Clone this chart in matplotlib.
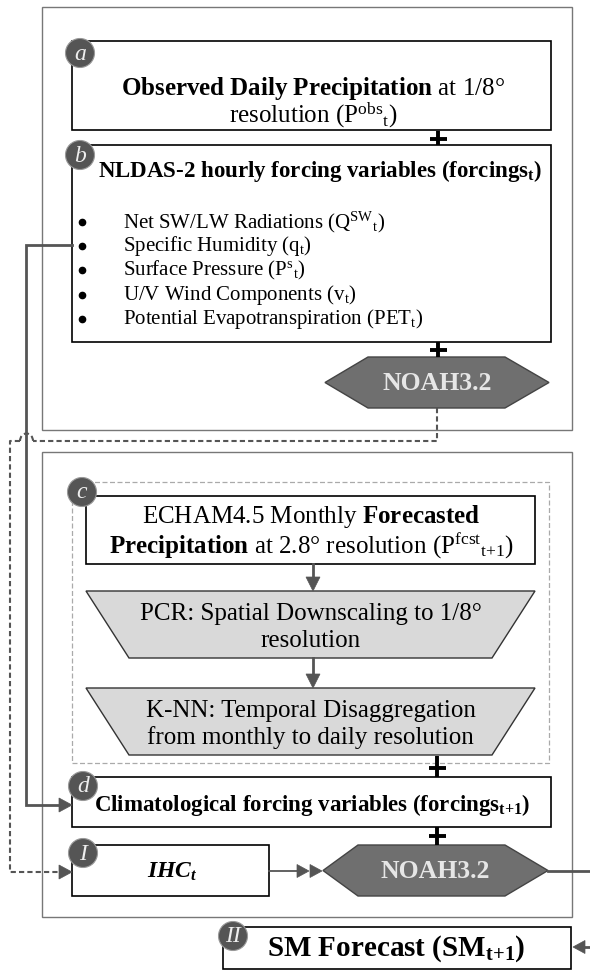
import matplotlib.pyplot as plt
from matplotlib.patches import Rectangle, Polygon, Circle, Arc

plt.rcParams['font.family'] = ['Liberation Serif', 'DejaVu Serif']
plt.rcParams['mathtext.fontset'] = 'custom'
plt.rcParams['mathtext.rm'] = 'Liberation Serif'
plt.rcParams['mathtext.it'] = 'Liberation Serif:italic'
plt.rcParams['mathtext.bf'] = 'Liberation Serif:bold'
plt.rcParams['mathtext.bfit'] = 'Liberation Serif:italic:bold'

# text content
box_a_lines = [r'$\mathbf{Observed\ Daily\ Precipitation}$ at 1/8°',
               r'resolution (P$^{\mathrm{obs}}{}_{\mathrm{t}}$)']
box_b_title = r'NLDAS-2 hourly forcing variables (forcings$_{\mathbf{t}}$)'
box_b_items = [r'Net SW/LW Radiations (Q$^{\mathrm{SW}}{}_{\mathrm{t}}$)',
               r'Specific Humidity (q$_{\mathrm{t}}$)',
               r'Surface Pressure (P$^{\mathrm{s}}{}_{\mathrm{t}}$)',
               r'U/V Wind Components (v$_{\mathrm{t}}$)',
               r'Potential Evapotranspiration (PET$_{\mathrm{t}}$)']
echam_lines = [r'ECHAM4.5 Monthly $\mathbf{Forecasted}$',
               r'$\mathbf{Precipitation}$ at 2.8° resolution (P$^{\mathrm{fcst}}{}_{\mathrm{t{+}1}}$)']
pcr_lines = ['PCR: Spatial Downscaling to 1/8°', 'resolution']
knn_lines = ['K-NN: Temporal Disaggregation', 'from monthly to daily resolution']
box_d_title = r'Climatological forcing variables (forcings$_{\mathbf{t{+}1}}$)'
ihc_text = r'IHC$_{\mathbfit{t}}$'
model_name = 'NOAH3.2'
sm_text = r'SM Forecast (SM$_{\mathbf{t{+}1}}$)'
tags = ['a', 'b', 'c', 'd', 'I', 'II']

DARK = '#555555'

fig = plt.figure(figsize=(5.9, 9.71), dpi=100)
ax = fig.add_axes([0, 0, 1, 1])
ax.set_xlim(0, 590)
ax.set_ylim(971, 0)
ax.axis('off')


def rect(x0, y0, x1, y1, ec='black', lw=1.2, fc='white', ls='-', z=2):
    ax.add_patch(Rectangle((x0, y0), x1 - x0, y1 - y0, ec=ec, fc=fc, lw=lw, ls=ls, zorder=z))


def tag(x, y, s):
    ax.add_patch(Circle((x, y), 14.5, fc=DARK, ec='#999999', lw=0.8, zorder=5))
    ax.text(x, y + 1, s, color='#eeeeee', fontsize=17, style='italic',
            ha='center', va='center', zorder=6)


def plus(x, y, y0, y1):
    ax.plot([x, x], [y0, y1], color='black', lw=2.8, zorder=4, solid_capstyle='butt')
    ax.plot([x - 8.5, x + 8.5], [y, y], color='black', lw=2.8, zorder=4, solid_capstyle='butt')


def hexagon(xl, xr, xil, xir, yt, yb):
    ym = (yt + yb) / 2
    ax.add_patch(Polygon([(xl, ym), (xil, yt), (xir, yt), (xr, ym), (xir, yb), (xil, yb)],
                         closed=True, fc='#6f6f6f', ec='#444444', lw=1, zorder=3))
    ax.text((xl + xr) / 2, ym + 1, model_name, color='#e6e6e6', fontsize=18.5,
            fontweight='bold', ha='center', va='center', zorder=4)


def trapezoid(xt0, xt1, xb0, xb1, yt, yb, lines):
    ax.add_patch(Polygon([(xt0, yt), (xt1, yt), (xb1, yb), (xb0, yb)], closed=True,
                         fc='#d9d9d9', ec='#333333', lw=1, zorder=3))
    ys = [yt + 23, yt + 50]
    for yy, s in zip(ys, lines):
        ax.text((xt0 + xt1) / 2, yy, s, fontsize=18, ha='center', va='center', zorder=4)


def tri(xtip, y, d, size=12, half=6.5):
    ax.add_patch(Polygon([(xtip, y), (xtip - d * size, y - half), (xtip - d * size, y + half)],
                         closed=True, fc=DARK, ec=DARK, lw=0.5, zorder=6))


def tri_down(x, ytip, size=14, half=7):
    ax.add_patch(Polygon([(x, ytip), (x - half, ytip - size), (x + half, ytip - size)],
                         closed=True, fc=DARK, ec=DARK, lw=0.5, zorder=6))


# outer boxes
rect(42, 7, 572, 430, ec='#777777', lw=1.0, fc='none', z=1)
rect(42, 452, 572, 917, ec='#777777', lw=1.0, fc='none', z=1)

# box a
rect(72, 41, 551, 130)
ax.text(313, 88, box_a_lines[0], fontsize=18, ha='center', va='center', zorder=4)
ax.text(313, 115, box_a_lines[1], fontsize=18, ha='center', va='center', zorder=4)
tag(80, 53, tags[0])
plus(438, 139, 131, 145)

# box b
rect(72, 145, 551, 342)
ax.text(320, 171, box_b_title, fontsize=16.5, fontweight='bold', ha='center', va='center', zorder=4)
for i, s in enumerate(box_b_items):
    yy = 222 + i * 24.2
    ax.plot(82, yy, 'o', ms=4.5, color='black', zorder=4)
    ax.text(123, yy, s, fontsize=15, ha='left', va='center', zorder=4)
tag(80, 155, tags[1])
plus(438, 350, 342, 357)
hexagon(325, 549, 368, 505, 357, 408)

# dashed box c
rect(72, 482, 549, 763, ec='#aaaaaa', lw=0.9, fc='none', ls=(0, (4, 2)), z=1)
rect(86, 496, 535, 564)
ax.text(311, 516, echam_lines[0], fontsize=18, ha='center', va='center', zorder=4)
ax.text(311, 545, echam_lines[1], fontsize=18, ha='center', va='center', zorder=4)
tag(82, 492, tags[2])
ax.plot([313, 313], [564, 578], color=DARK, lw=2, zorder=5)
tri_down(313, 591)
trapezoid(86, 535, 129, 492, 591, 658, pcr_lines)
ax.plot([313, 313], [658, 675], color=DARK, lw=2, zorder=5)
tri_down(313, 688)
trapezoid(86, 535, 129, 492, 688, 755, knn_lines)

# box d
plus(437, 768, 756, 777)
rect(72, 777, 551, 827)
ax.text(312, 805, box_d_title, fontsize=16.5, fontweight='bold', ha='center', va='center', zorder=4)
tag(83, 786, tags[3])
plus(437, 836, 827, 845)

# box I and second model run
rect(72, 845, 269, 896)
ax.text(172, 872, ihc_text, fontsize=17, fontweight='bold', style='italic',
        ha='center', va='center', zorder=4)
tag(83, 853, tags[4])
hexagon(323, 548, 358, 505, 845, 896)
ax.plot([269, 297], [871, 871], color=DARK, lw=1.3, zorder=5)
tri(309, 871, 1, size=12, half=6.5)
tri(322, 871, 1, size=12, half=6.5)
ax.plot([548, 590], [871, 871], color=DARK, lw=2, zorder=5)

# box II
rect(223, 927, 571, 969)
ax.text(396, 949, sm_text, fontsize=21, fontweight='bold', ha='center', va='center', zorder=4)
tag(233, 936, tags[5])
ax.plot([584, 590], [947, 947], color=DARK, lw=2, zorder=5)
tri(573, 947, -1, size=12, half=6.5)

# solid link from NLDAS forcings to climatological forcings
ax.plot([72, 26, 26, 60], [245, 245, 805, 805], color=DARK, lw=2, zorder=5,
        solid_joinstyle='miter')
tri(72, 805, 1, size=13, half=7)

# dashed link from first model run to initial conditions
dash = dict(color=DARK, lw=1.5, ls=(0, (2.5, 1.5)), zorder=5)
ax.plot([437, 437, 33], [408, 441, 441], **dash)
ax.add_patch(Arc((26.5, 441), 13, 15, theta1=180, theta2=360, color=DARK, lw=1.5,
                 ls=(0, (2.5, 1.5)), zorder=5))
ax.plot([20, 10, 10, 59], [441, 441, 872, 872], **dash)
tri(72, 872, 1, size=13, half=7)

fig.savefig('out.png', dpi=100)
